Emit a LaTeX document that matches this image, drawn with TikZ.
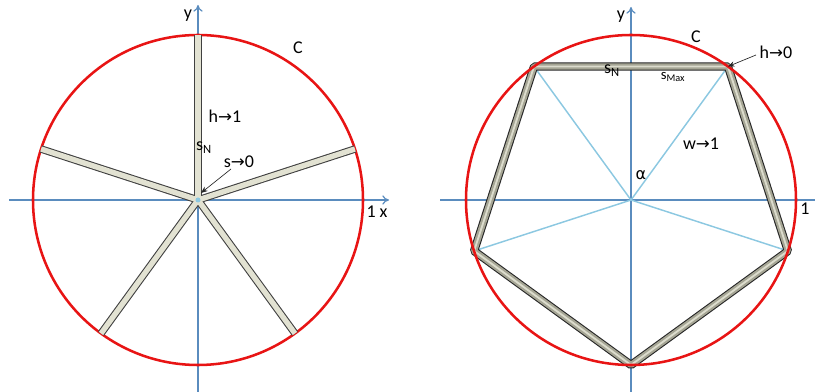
\documentclass[tikz,border=0pt]{standalone}
\usepackage{fontspec}
\setmainfont{Carlito}
\newfontfamily\symf{DejaVu Sans}
\usetikzlibrary{arrows.meta,calc}
\definecolor{axisblue}{RGB}{90,140,190}
\definecolor{lightblue}{RGB}{140,200,225}
\definecolor{circred}{RGB}{232,20,20}
\definecolor{spokefill}{RGB}{226,226,210}
\definecolor{barfill}{RGB}{165,165,148}
\definecolor{barlight}{RGB}{220,220,205}
\newcommand{\arr}{{\symf\fontsize{12.5}{12}\selectfont →}}
\begin{document}
\begin{tikzpicture}[x=0.75pt,y=-0.75pt,
  axis/.style={draw=axisblue,line width=0.9pt,-{To[length=5pt,width=7pt]}},
  circ/.style={draw=circred,line width=1.9pt},
  spokeout/.style={draw=black!75,line width=5.6pt},
  spokein/.style={draw=spokefill,line width=4.0pt},
  barout/.style={draw=black!85,line width=6.2pt,line join=bevel},
  barmid/.style={draw=barfill,line width=4.6pt,line join=bevel},
  barin/.style={draw=barlight,line width=1.4pt,line join=bevel},
  ray/.style={draw=lightblue,line width=1.1pt},
  lbl/.style={font=\fontsize{13.5}{15}\selectfont,inner sep=0pt},
  note/.style={draw=black!85,line width=0.5pt,-{Stealth[length=5pt,width=4pt]}}]
\useasboundingbox (0,0) rectangle (815,392);
% ---------- left figure ----------
\coordinate (O1) at (198,200);
\draw[axis] (9,200) -- (389,200);
\draw[axis] (198,392) -- (198,5);
\draw[circ] (O1) circle[radius=165];
\foreach \a/\n in {90/a,18/b,-54/c,-126/d,162/e}{
  \coordinate (E\n) at ($(O1)+(-\a:165)$);
}
\foreach \n in {a,b,c,d,e}{
  \draw[spokeout] (O1) -- (E\n);
}
\foreach \n in {a,b,c,d,e}{
  \draw[spokein] (O1) -- (E\n);
}
\fill[lightblue] (O1) circle[radius=2.5];
\node[lbl] (y1) at (188,16) {y};
\node[lbl] (c1) at (298,48) {C};
\node[lbl] (h1) at (225,116) {h\arr1};
\node[lbl] (sn1) at (204,148) {s\textsubscript{N}};
\node[lbl] (s1) at (239,162) {s\arr0};
\node[lbl] (x1) at (377,212) {1 x};
\coordinate (s1tip) at (201,193);
\draw[note] (231,169) -- (s1tip);
% ---------- right figure ----------
\coordinate (O2) at (631,200);
\draw[axis] (440,200) -- (822,200);
\draw[axis] (631,392) -- (631,7);
\foreach \a/\n in {54/A,126/B,198/C,270/D,342/E}{
  \coordinate (P\n) at ($(O2)+(-\a:165)$);
}
\foreach \n in {A,B,C,E}{
  \draw[ray] (O2) -- (P\n);
}
\draw[barout] (PA) -- (PB) -- (PC) -- (PD) -- (PE) -- cycle;
\draw[barmid] (PA) -- (PB) -- (PC) -- (PD) -- (PE) -- cycle;
\draw[barin] (PA) -- (PB) -- (PC) -- (PD) -- (PE) -- cycle;
\draw[circ] (O2) circle[radius=165];
\node[lbl] (y2) at (621,17) {y};
\node[lbl] (c2) at (696,37) {C};
\node[lbl] (h2) at (776,52) {h\arr0};
\draw[note] (756,55) -- (PA);
\node[lbl] (sn2) at (612,71) {s\textsubscript{N}};
\node[lbl,font=\fontsize{11}{12}\selectfont] (sm2) at (673,77) {s\textsubscript{Max}};
\node[lbl] (w2) at (701,144) {w\arr1};
\node[lbl] (al2) at (641,175) {\symf\fontsize{12}{12}\selectfont α};
\node[lbl] (x2) at (805,209) {1};
\end{tikzpicture}
\end{document}
